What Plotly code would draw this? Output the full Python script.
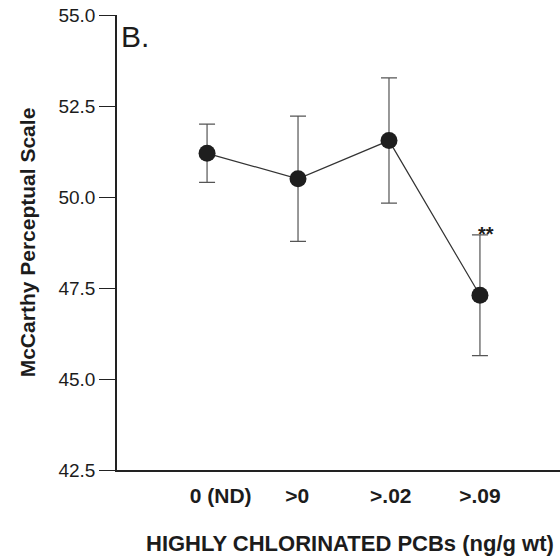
import plotly.graph_objects as go

categories = ["0 (ND)", ">0", ">.02", ">.09"]
x_pos = [1, 2, 3, 4]
label_pos = [1.15, 1.99, 3.02, 4.0]
means = [51.2, 50.5, 51.55, 47.3]
errors = [0.8, 1.72, 1.72, 1.66]
y_ticks = [42.5, 45.0, 47.5, 50.0, 52.5, 55.0]

FONT = "Liberation Sans, Arial, sans-serif"
INK = "#1c1c1c"

W, H = 560, 557
L, T, B = 117, 15, 87
plot_h = H - T - B

fig = go.Figure()
fig.add_trace(go.Scatter(
    x=x_pos, y=means,
    mode="lines+markers",
    line=dict(color="#333333", width=1.2),
    marker=dict(size=17, color="#1e1e1e"),
    error_y=dict(type="data", array=errors, visible=True,
                 color="#555555", thickness=1.2, width=8),
    showlegend=False,
))

fig.add_annotation(x=x_pos[3] + 0.07, y=means[3] + errors[3], text="<b>**</b>",
                   showarrow=False, yanchor="middle", yshift=1,
                   font=dict(family=FONT, size=20, color=INK))
fig.add_annotation(x=0.0, y=1.0, xref="paper", yref="paper", text="B.",
                   showarrow=False, xanchor="left", yanchor="top", xshift=2, yshift=-3,
                   font=dict(family=FONT, size=30, color=INK))
fig.add_annotation(xref="paper", x=(350 - 117) / (560 - 117),
                   yref="paper", y=-(543 - 470) / plot_h,
                   text="<b>HIGHLY CHLORINATED PCBs (ng/g wt)</b>",
                   showarrow=False, xanchor="center", yanchor="middle",
                   font=dict(family=FONT, size=22, color=INK))

fig.update_layout(
    width=W, height=H,
    margin=dict(l=L, r=0, t=T, b=B, autoexpand=False),
    paper_bgcolor="white", plot_bgcolor="white",
    font=dict(family=FONT, color=INK),
    xaxis=dict(
        range=[0.01, 4.88],
        tickvals=label_pos, ticktext=[f"<b>{c}</b>" for c in categories],
        tickfont=dict(size=21, color=INK),
        showgrid=False, zeroline=False,
        showline=True, linecolor="#222222", linewidth=1.5,
        ticks="", ticklabelstandoff=6,
    ),
    yaxis=dict(
        range=[42.5, 55.0],
        tickvals=y_ticks, tickformat=".1f",
        tickfont=dict(size=19, color=INK),
        ticklabeloverflow="allow",
        showgrid=False, zeroline=False,
        showline=True, linecolor="#222222", linewidth=1.5,
        ticks="outside", ticklen=16, tickwidth=1.3, tickcolor="#222222",
        title=dict(text="<b>McCarthy Perceptual Scale</b>",
                   font=dict(size=21, color=INK), standoff=17),
    ),
)

fig.write_html("out.html",
               config={"displayModeBar": False},
               post_script="document.body.style.margin='0';document.body.style.overflow='hidden';")
